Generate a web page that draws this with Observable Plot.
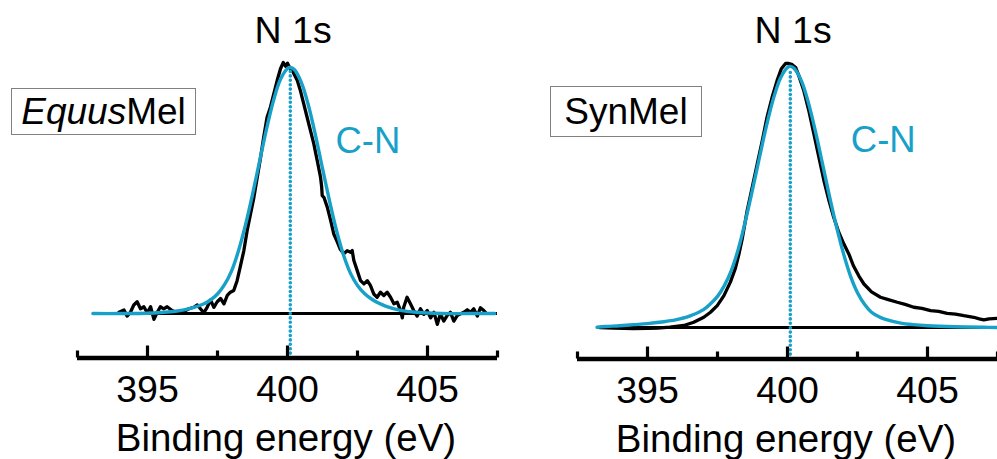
<!DOCTYPE html>
<html><head><meta charset="utf-8">
<script src="https://cdn.jsdelivr.net/npm/d3@7"></script>
<script src="https://cdn.jsdelivr.net/npm/@observablehq/plot@0.6"></script>
<style>
html,body{margin:0;padding:0;background:#fff;}
#wrap{position:relative;width:997px;height:459px;overflow:hidden;font-family:"Liberation Sans",Arial,sans-serif;}
#wrap svg{position:absolute;top:0;}
.box{position:absolute;border:1.3px solid #808080;font-size:37px;line-height:1;box-sizing:border-box;display:flex;align-items:center;justify-content:center;color:#000;background:#fff;white-space:nowrap}
</style></head><body><div id="wrap"></div>
<script>
// ---- data (binding energy eV, normalised intensity) ----
const xDomain = [392.5, 407.5];
const xTicksMajor = [395, 400, 405];
const xTicksMinor = [392.5, 397.5, 402.5, 407.5];
const xLabel = "Binding energy (eV)";
const coreLevel = "N 1s";
const componentLabel = "C-N";
const sampleNames = ["EquusMel", "SynMel"];

const equusData = [
 [393.98,0.005],[394.16,0.014],[394.27,-0.010],[394.39,0.005],[394.51,0.034],[394.63,0.047],[394.75,0.019],[394.87,0.027],
 [394.99,0.003],[395.11,0.027],[395.23,-0.023],[395.35,0.005],[395.46,0.027],[395.58,0.019],[395.70,0.027],[395.88,0.012],
 [396.00,0.005],[396.18,0.008],[396.36,0.012],[396.48,0.019],[396.65,0.025],[396.78,0.034],[396.89,0.019],[397.01,0.003],
 [397.13,0.025],[397.25,0.054],[397.37,0.025],[397.49,0.047],[397.61,0.060],[397.73,0.039],[397.85,0.072],[397.96,0.085],
 [398.08,0.092],[398.20,0.131],[398.32,0.190],[398.44,0.250],[398.56,0.331],[398.68,0.397],[398.80,0.463],[398.92,0.543],
 [399.04,0.623],[399.15,0.702],[399.27,0.782],[399.39,0.822],[399.51,0.875],[399.63,0.928],[399.75,0.975],[399.85,1.000],
 [399.93,0.985],[400.00,0.997],[400.11,0.972],[400.17,0.968],[400.35,0.928],[400.46,0.888],[400.58,0.835],[400.70,0.782],
 [400.82,0.729],[400.94,0.676],[401.06,0.610],[401.18,0.543],[401.22,0.505],[401.24,0.470],[401.30,0.463],[401.42,0.424],
 [401.54,0.371],[401.65,0.318],[401.78,0.285],[401.89,0.255],[402.01,0.238],[402.13,0.250],[402.25,0.244],[402.31,0.251],
 [402.37,0.211],[402.49,0.171],[402.61,0.131],[402.73,0.118],[402.85,0.131],[402.96,0.112],[403.08,0.078],[403.20,0.065],
 [403.32,0.085],[403.44,0.072],[403.56,0.085],[403.68,0.065],[403.80,0.039],[403.92,0.045],[404.04,0.012],[404.10,-0.017],
 [404.15,0.025],[404.27,0.065],[404.39,0.039],[404.51,0.012],[404.63,-0.010],[404.75,0.019],[404.87,-0.003],[404.99,0.012],
 [405.11,-0.017],[405.23,0.005],[405.35,-0.043],[405.46,-0.001],[405.58,-0.030],[405.70,-0.008],[405.82,0.005],[405.94,-0.030],
 [406.06,-0.008],[406.18,-0.001],[406.30,0.005],[406.42,0.015],[406.54,0.005],[406.65,0.019],[406.78,-0.010],[406.89,0.023],
 [407.01,0.012],[407.07,0.005]
];
const equusFit = [
 [393.05,0],[394.0,0],[395.0,0.001],[395.5,0.004],[396.0,0.009],[396.5,0.020],[397.0,0.038],[397.25,0.054],[397.5,0.078],
 [397.75,0.115],[398.0,0.169],[398.25,0.250],[398.5,0.353],[398.75,0.474],[399.0,0.605],[399.25,0.735],[399.5,0.849],
 [399.75,0.933],[400.0,0.976],[400.1,0.980],[400.25,0.971],[400.5,0.919],[400.75,0.828],[401.0,0.710],[401.25,0.578],
 [401.5,0.449],[401.75,0.331],[402.0,0.233],[402.25,0.160],[402.5,0.112],[402.75,0.080],[403.0,0.058],[403.25,0.042],
 [403.5,0.030],[404.0,0.014],[404.5,0.006],[405.0,0.002],[405.5,0],[406.5,0],[407.4,0]
];
const synData = [
 [393.30,0.000],[393.80,-0.002],[394.50,-0.004],[395.00,-0.003],[395.35,-0.002],[395.80,0.002],[396.30,0.008],[396.65,0.020],
 [397.01,0.039],[397.25,0.058],[397.49,0.083],[397.73,0.121],[397.96,0.172],[398.14,0.225],[398.26,0.275],[398.38,0.335],
 [398.56,0.443],[398.74,0.531],[398.92,0.620],[399.10,0.708],[399.27,0.797],[399.45,0.872],[399.63,0.936],[399.78,0.980],
 [399.93,1.000],[400.05,1.000],[400.15,0.997],[400.29,0.985],[400.40,0.955],[400.58,0.898],[400.76,0.822],[400.94,0.734],
 [401.12,0.645],[401.30,0.557],[401.48,0.481],[401.65,0.418],[401.83,0.361],[402.01,0.317],[402.19,0.279],[402.35,0.235],
 [402.55,0.195],[402.73,0.165],[403.00,0.135],[403.32,0.115],[403.60,0.106],[403.92,0.096],[404.20,0.088],[404.51,0.077],
 [404.80,0.073],[405.11,0.064],[405.40,0.061],[405.70,0.054],[406.00,0.051],[406.30,0.045],[406.65,0.039],[406.85,0.033],
 [407.01,0.029],[407.20,0.033],[407.50,0.035]
];
const synFit = [
 [393.2,0.001],[393.5,0.004],[394.0,0.007],[394.5,0.011],[395.0,0.015],[395.5,0.021],[396.0,0.029],[396.5,0.043],[397.0,0.068],
 [397.25,0.090],[397.5,0.118],[397.75,0.160],[398.0,0.218],[398.25,0.300],[398.5,0.405],[398.75,0.522],[399.0,0.645],
 [399.25,0.765],[399.5,0.868],[399.75,0.945],[400.0,0.985],[400.1,0.989],[400.25,0.980],[400.5,0.933],[400.75,0.850],
 [401.0,0.742],[401.25,0.620],[401.5,0.497],[401.75,0.382],[402.0,0.280],[402.25,0.195],[402.5,0.132],[402.75,0.088],
 [403.0,0.058],[403.25,0.042],[403.5,0.031],[404.0,0.018],[404.5,0.011],[405.0,0.007],[406.0,0.003],[407.0,0.001],[407.5,0]
];
const fitCentres = [400.1, 400.1];
const fitHeights = [0.98, 0.989];

const BLUE = "#17a0c8";
const FONT = "Liberation Sans, Arial, sans-serif";

function panel(o) {
  const frameH = 459 - o.marginTop - o.marginBottom;
  const xy = {x: d => d[0], y: d => d[1]};
  return Plot.plot({
    width: o.width, height: 459,
    marginLeft: 77, marginRight: o.marginRight, marginTop: o.marginTop, marginBottom: o.marginBottom,
    style: {fontFamily: FONT, background: "transparent", overflow: "visible"},
    x: {domain: xDomain, axis: null},
    y: {domain: o.yDomain, axis: null},
    marks: [
      Plot.ruleY([0], {x1: o.baseline[0], x2: o.baseline[1], stroke: "#000", strokeWidth: 3}),
      Plot.line(o.data, {...xy, stroke: "#000", strokeWidth: 3.3, strokeLinejoin: "round"}),
      Plot.line(o.fit, {...xy, stroke: BLUE, strokeWidth: 3.4, curve: "catmull-rom"}),
      Plot.ruleX([o.centre], {y1: o.yDomain[0], y2: o.peak - 0.015, stroke: BLUE, strokeWidth: 3.6, strokeDasharray: "0 4.4", strokeLinecap: "round"}),
      Plot.ruleY([o.yDomain[0]], {stroke: "#000", strokeWidth: 4.5}),
      Plot.ruleX(xTicksMajor, {insetTop: frameH - 12, stroke: "#000", strokeWidth: 3.2}),
      Plot.ruleX(xTicksMinor, {insetTop: frameH - 7, stroke: "#000", strokeWidth: 3.2}),
      Plot.text(xTicksMajor, {x: d => d, text: d => String(d), frameAnchor: "bottom", dy: 44, lineAnchor: "bottom", fontSize: 37.5, fill: "#000"}),
      Plot.text([xLabel], {text: d => d, frameAnchor: "bottom", dy: 92.5, dx: -1.5, lineAnchor: "bottom", fontSize: 38.5, fill: "#000"}),
      Plot.text([coreLevel], {text: d => d, x: 400.2, y: o.titleY, lineAnchor: "bottom", fontSize: 37.5, fill: "#000"}),
      Plot.text([componentLabel], {text: d => d, x: o.cnX, y: o.cnY, textAnchor: "start", lineAnchor: "bottom", fontSize: 36.5, fill: BLUE})
    ]
  });
}

const wrap = document.getElementById("wrap");
const left = panel({data: equusData, fit: equusFit, centre: fitCentres[0], peak: fitHeights[0],
  width: 500, marginRight: 3, marginTop: 62, marginBottom: 101.5, yDomain: [-0.177, 1],
  baseline: [393.04, 407.5], titleY: 1.078, cnX: 401.71, cnY: 0.641});
left.style.left = "0px";
const right = panel({data: synData, fit: synFit, centre: fitCentres[1], peak: fitHeights[1],
  width: 497, marginRight: 0, marginTop: 63, marginBottom: 100.5, yDomain: [-0.119, 1],
  baseline: [393.21, 407.5], titleY: 1.077, cnX: 402.26, cnY: 0.664});
right.style.left = "500px";
wrap.appendChild(left);
wrap.appendChild(right);

const b1 = document.createElement("div");
b1.className = "box";
b1.style.cssText = "left:11px;top:88px;width:185px;height:47px;";
b1.innerHTML = "<i>Equus</i>Mel";
const b2 = document.createElement("div");
b2.className = "box";
b2.style.cssText = "left:550px;top:86px;width:152px;height:51px;";
b2.textContent = sampleNames[1];
wrap.appendChild(b1);
wrap.appendChild(b2);
</script></body></html>
